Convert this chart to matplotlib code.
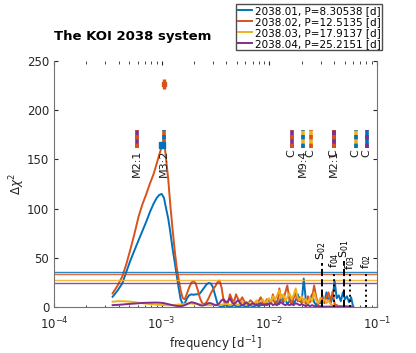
import numpy as np
import matplotlib
matplotlib.use("Agg")
import matplotlib.pyplot as plt

# frequency grid, in units of 1e-3 d^-1
freq_smooth = [0.35, 0.39, 0.43, 0.47, 0.51, 0.56, 0.61, 0.66, 0.72, 0.78,
               0.84, 0.90, 0.95, 1.00, 1.05, 1.10, 1.15, 1.20, 1.26, 1.32,
               1.38, 1.44, 1.50, 1.57, 1.64, 1.72, 1.80, 1.89, 1.98, 2.07,
               2.17, 2.27, 2.38, 2.49, 2.61, 2.73, 2.86, 3.00, 3.14, 3.29,
               3.44, 3.60, 3.77, 3.94]
freq_noisy = [4.12, 4.31, 4.50, 4.70, 4.91, 5.13, 5.36, 5.60, 5.85, 6.11,
              6.39, 6.68, 6.98, 7.29, 7.62, 7.96, 8.32, 8.69, 9.08, 9.49,
              9.92, 10.4, 10.8, 11.3, 11.8, 12.4, 12.9, 13.5, 14.1, 14.7,
              15.4, 16.1, 16.8, 17.6, 18.4, 19.2, 20.0, 20.9, 21.9, 22.9,
              23.9, 25.0, 26.1, 27.3, 28.5, 29.8, 31.1, 32.5, 34.0, 35.5,
              37.1, 38.8, 40.5, 42.3, 44.2, 46.2, 48.3, 50.5, 52.7, 55.1,
              57.6, 60.2]

chi_01 = [10.5, 17, 24, 36, 47, 58, 68, 77, 87, 97,
          105, 111, 114, 115, 111, 100, 90, 77, 60, 46,
          32, 19, 8, 3, 4, 9, 12, 13, 12.5, 13,
          13, 14, 17, 20, 23, 24.5, 24, 20, 12, 4,
          1, 0.5, 1, 2,
          1, 0.5, 1, 2, 1, 0.5, 1, 2, 1, 0.5,
          1, 2, 1, 1, 2, 1, 2, 3, 2, 4,
          3, 6, 10, 4, 6, 3, 12, 5, 8, 3,
          6, 9, 4, 7, 13, 6, 5, 29, 6, 3,
          8, 13, 5, 2, 5, 4, 9, 5, 15, 7,
          4, 10, 27, 9, 12, 6, 15, 8, 11, 5,
          10, 0]
chi_02 = [14, 22, 31, 44, 58, 75, 92, 104, 115, 126,
          135, 146, 155, 163, 170, 150, 130, 105, 80, 58,
          40, 28, 17, 9, 8, 14, 20, 25, 26.5, 24,
          17, 9, 4, 3, 5, 9, 14, 18, 21, 25,
          27, 20, 6, 3,
          4, 13, 8, 5, 13, 8, 6, 10, 6, 2,
          4, 7, 5, 2, 3, 6, 10, 4, 3, 8,
          6, 4, 13, 5, 2, 19, 8, 6, 15, 22,
          7, 3, 9, 14, 6, 10, 4, 8, 3, 11,
          5, 9, 22, 10, 3, 6, 12, 4, 10, 15,
          6, 16, 3, 2, 1, 1, 0.5, 0.5, 0.5, 0.5,
          0.5, 0.3]
chi_03 = [5.5, 6, 6, 5.8, 5.5, 5, 4.5, 4, 3.5, 3,
          2.8, 2.5, 2.3, 2.2, 2.1, 2, 2, 2, 2, 2.2,
          2.4, 2.6, 2.8, 3, 3.3, 3.6, 3.8, 3.6, 3.4, 3.2,
          3, 2.8, 2.5, 2.2, 2, 2, 2, 2.2, 2.4, 2.2,
          2, 2.5, 3, 3,
          3, 2, 3, 5, 3, 2, 4, 6, 3, 2,
          5, 3, 2, 4, 7, 3, 5, 8, 4, 6,
          9, 5, 11, 7, 12, 17, 9, 13, 6, 10,
          14, 8, 12, 19, 9, 7, 11, 5, 8, 4,
          10, 6, 15, 7, 4, 9, 5, 8, 4, 7,
          3, 2, 1, 0.5, 0.5, 0.5, 0.5, 0.5, 0.5, 0.5,
          0.5, 0.5]
chi_04 = [2, 2.3, 2.6, 3, 3.3, 3.6, 3.9, 4.2, 4.4, 4.5,
          4.6, 4.6, 4.5, 4.3, 4, 3.5, 3, 2.5, 2, 1.5,
          1.2, 1, 1, 1.3, 2, 3, 4, 5, 4.5, 4,
          3, 2, 1.5, 2, 3, 4, 4, 3, 2, 2,
          4, 7, 8, 5,
          6, 9, 5, 3, 5, 7, 4, 2, 3, 5,
          3, 2, 4, 3, 2, 3, 4, 2, 3, 2,
          3, 4, 2, 3, 2, 4, 5, 3, 2, 3,
          2, 3, 2, 4, 3, 2, 3, 2, 1, 2,
          1, 2, 1, 1, 1, 1, 0.5, 0.5, 0.5, 0.5,
          0.5, 0.5, 0.5, 0.5, 0.5, 0.5, 0.5, 0.5, 0.5, 0.5,
          0.5, 0.5]

labels = ["2038.01, P=8.30538 [d]", "2038.02, P=12.5135 [d]",
          "2038.03, P=17.9137 [d]", "2038.04, P=25.2151 [d]"]
colors = ["#0072BD", "#D95319", "#EDB120", "#7E2F8E"]
thresholds = [35.2, 33.6, 27.4, 24.2]

# resonance markers: frequency [1e-3 d^-1], colour pair, label
res_freq = [0.59, 1.05, 16.1, 20.6, 24.2, 39.8, 39.8, 63.7, 80.1]
res_cols = [(3, 1), (1, 0), (3, 1), (2, 0), (2, 1), (3, 1), (3, 1), (2, 0), (0, 3)]
res_text = ["M2:1", "M3:2", "C", "M9:4", "C", "M2:1", "C", "C", "C"]

# measured points with error bars
pt_freq = [1.05, 1.00]
pt_val = [227, 165]
pt_err = [5, 3]

# frequency / synodic lines at the bottom
fl_freq = [30.6, 39.66, 49.3, 55.82, 79.91]
fl_top = [45, 37, 47, 35, 36]
fl_style = ["--", ":", "--", ":", ":"]
fl_text = [r"S$_{02}$", r"f$_{04}$", r"S$_{01}$", r"f$_{03}$", r"f$_{02}$"]

freq = np.array(freq_smooth + freq_noisy) * 1e-3

fig = plt.figure(figsize=(4.16, 3.53), dpi=100)
ax = fig.add_axes([0.130, 0.130, 0.776, 0.697])

for y, c, lab in zip([chi_01, chi_02, chi_03, chi_04], colors, labels):
    ax.plot(freq, y, color=c, lw=1.4, label=lab)
for t, c in zip(thresholds, colors):
    ax.axhline(t, color=c, lw=1.0, alpha=0.85)

for f, (a, b), txt in zip(res_freq, res_cols, res_text):
    ax.plot([f * 1e-3] * 2, [162, 180], color=colors[a], lw=2.6, solid_capstyle="butt")
    ax.plot([f * 1e-3] * 2, [162, 180], color=colors[b], lw=2.6, ls=(0, (1.2, 1.2)))
    ax.text(f * 1e-3, 160, txt, rotation=90, ha="center", va="top", fontsize=8, color="0.1")

ax.errorbar(pt_freq[0] * 1e-3, pt_val[0], yerr=pt_err[0], color=colors[1],
            marker="s", ms=3, lw=2.5, capsize=0)
ax.errorbar(pt_freq[1] * 1e-3, pt_val[1], yerr=pt_err[1], color=colors[0],
            marker="s", ms=5, lw=2, capsize=0)

for f, top, ls, txt in zip(fl_freq, fl_top, fl_style, fl_text):
    ax.plot([f * 1e-3] * 2, [0, top], color="k", lw=1.4, ls=ls)
    ax.text(f * 1e-3, top + 3, txt, rotation=90, ha="center", va="bottom", fontsize=8)

ax.set_xscale("log")
ax.set_xlim(1e-4, 1e-1)
ax.set_ylim(0, 250)
ax.set_yticks(range(0, 251, 50))
ax.set_xlabel(r"frequency [d$^{-1}$]", fontsize=8.5, color="0.15", labelpad=2)
ax.set_ylabel(r"$\Delta\chi^2$", fontsize=8.5, color="0.15")
ax.yaxis.set_label_coords(-0.085, 0.5)
ax.tick_params(which="both", direction="in", top=True, right=True, labelsize=8.5,
               colors="0.15")
ax.tick_params(axis="x", pad=6)
ax.tick_params(which="major", length=3)
ax.tick_params(which="minor", length=1.8)
ax.spines["top"].set_visible(False)
for s in ["left", "bottom", "right"]:
    ax.spines[s].set_color("0.45")
ax.set_title("The KOI 2038 system", loc="left", fontsize=9.5, fontweight="bold", pad=15)

fig.legend(loc="upper right", bbox_to_anchor=(0.918, 0.988), fontsize=7.5,
           fancybox=False, framealpha=1, edgecolor="0.3", handlelength=1.4,
           handletextpad=0.2, borderpad=0.15, labelspacing=0.1, borderaxespad=0)

fig.savefig("out.png", dpi=100)
